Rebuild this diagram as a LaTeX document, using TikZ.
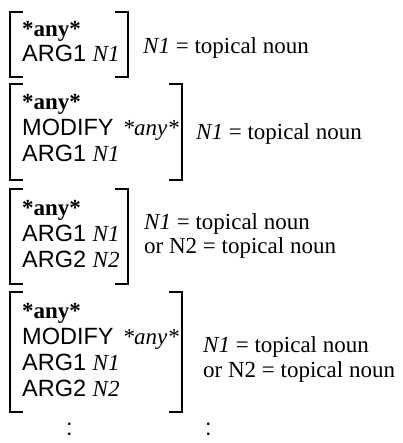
\documentclass[tikz,border=0pt]{standalone}
\usepackage{fontspec}
\setmainfont{Liberation Serif}
\setsansfont{Liberation Sans}
\newcommand{\sfs}{\fontsize{23.5}{25}\selectfont\sffamily}
\newcommand{\rms}{\fontsize{23}{25}\selectfont\rmfamily}
\begin{document}
\begin{tikzpicture}[x=1pt,y=-1pt,
  txt/.style={anchor=base west,inner sep=0pt},
  lbl/.style={anchor=base west,inner sep=0pt,font=\rms},
  brk/.style={line width=1.4pt},
]
\useasboundingbox (0,0) rectangle (402,443);
\newcommand{\bracketbox}[4]{% left x, right x, top, bottom
  \draw[brk] (#1+13,#3) -- (#1,#3) -- (#1,#4) -- (#1+13,#4);
  \draw[brk] (#2-13,#3) -- (#2,#3) -- (#2,#4) -- (#2-13,#4);
}
% box 1
\bracketbox{10}{128}{12}{77}
\node[txt] (a1) at (22,37) {\rms\bfseries *any*};
\node[txt] (a2) at (22,62) {\sfs ARG1 \rms\itshape N1};
\node[lbl] (l1) at (143,54) {\textit{N1} = topical noun};
% box 2
\bracketbox{10}{182}{84}{180}
\node[txt] (b1) at (22,110) {\rms\bfseries *any*};
\node[txt] (b2) at (22,136) {\sfs MODIFY\hspace{9pt}\rms\itshape *any*};
\node[txt] (b3) at (22,162) {\sfs ARG1 \rms\itshape N1};
\node[lbl] (l2) at (196,140) {\textit{N1} = topical noun};
% box 3
\bracketbox{10}{128}{189}{284}
\node[txt] (c1) at (22,215) {\rms\bfseries *any*};
\node[txt] (c2) at (22,241) {\sfs ARG1 \rms\itshape N1};
\node[txt] (c3) at (22,267) {\sfs ARG2 \rms\itshape N2};
\node[lbl] (l3) at (144,229) {\textit{N1} = topical noun};
\node[lbl] (l4) at (144,253) {or N2 = topical noun};
% box 4
\bracketbox{10}{182}{292}{412}
\node[txt] (d1) at (22,318) {\rms\bfseries *any*};
\node[txt] (d2) at (22,344) {\sfs MODIFY\hspace{9pt}\rms\itshape *any*};
\node[txt] (d3) at (22,370) {\sfs ARG1 \rms\itshape N1};
\node[txt] (d4) at (22,396) {\sfs ARG2 \rms\itshape N2};
\node[lbl] (l5) at (203,352) {\textit{N1} = topical noun};
\node[lbl] (l6) at (203,377) {or N2 = topical noun};
% dots
\node[txt] (e1) at (66,435) {\sfs :};
\node[txt] (e2) at (205,435) {\sfs :};
\end{tikzpicture}
\end{document}
